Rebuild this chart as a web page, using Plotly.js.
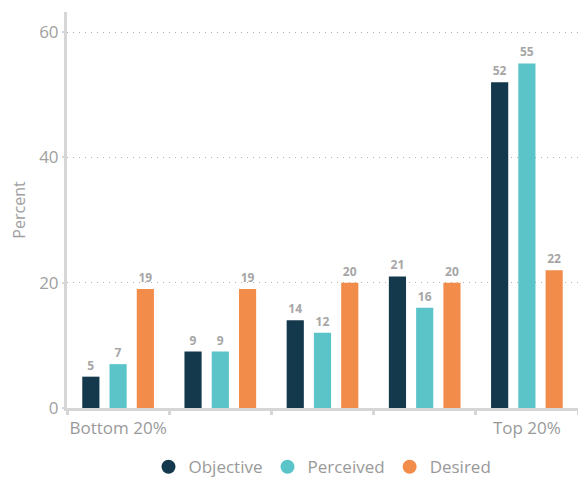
<!DOCTYPE html>
<html><head><meta charset="utf-8">
<script src="https://cdn.plot.ly/plotly-3.0.1.min.js"></script>
<style>body{margin:0;background:#fff}#c{width:578px;height:478px}</style>
</head><body><div id="c"></div>
<script>
const categories = ["Bottom 20%", " ", "  ", "   ", "Top 20%"];
const objective = [5, 9, 14, 21, 52];
const perceived = [7, 9, 12, 16, 55];
const desired = [19, 19, 20, 20, 22];
const seriesNames = ["Objective", "Perceived", "Desired"];
const colors = ["#14384c", "#5bc4c9", "#f28c4a"];
const yTicks = [0, 20, 40, 60];

const font = "'Open Sans', sans-serif";
const vals = [objective, perceived, desired];
const traces = [];
vals.forEach((v, i) => {
  traces.push({
    type: 'bar', x: categories, y: v, name: seriesNames[i],
    marker: {color: colors[i]}, showlegend: false,
    text: v.map(String), textposition: 'outside', cliponaxis: false,
    textfont: {family: font, size: 12, color: '#a6a6a6', weight: 'bold'},
    hoverinfo: 'x+y'
  });
});
vals.forEach((v, i) => {
  traces.push({
    type: 'scatter', mode: 'markers', x: [null], y: [null], name: seriesNames[i],
    marker: {color: colors[i], size: 14, symbol: 'circle'}, showlegend: true
  });
});

Plotly.newPlot('c', traces, {
  width: 578, height: 478,
  margin: {l: 67, r: 0, t: 12, b: 70, autoexpand: false},
  paper_bgcolor: '#fff', plot_bgcolor: '#fff',
  barmode: 'group', bargap: 0.2, bargroupgap: 0.37,
  font: {family: font, color: '#999'},
  xaxis: {
    type: 'category', range: [-0.5, 4.5], automargin: false, tickangle: 0,
    showline: true, linecolor: '#d6d6d6', linewidth: 3,
    ticks: 'outside', tickson: 'boundaries', ticklen: 4, tickwidth: 3, tickcolor: '#d6d6d6',
    ticklabelstandoff: 3,
    tickfont: {size: 17, color: '#9a9a9a'}, showgrid: false, zeroline: false, fixedrange: true
  },
  yaxis: {
    range: [0, 63.2], tickvals: yTicks, automargin: false,
    title: {text: 'Percent', font: {size: 16, color: '#a0a0a0'}, standoff: 10},
    showline: true, linecolor: '#d6d6d6', linewidth: 3,
    ticks: 'outside', ticklen: 2, tickwidth: 2, tickcolor: '#d6d6d6',
    tickfont: {size: 17, color: '#a0a0a0'},
    showgrid: true, gridcolor: '#b0b0b0', gridwidth: 1, griddash: '1px,5px',
    zeroline: false, fixedrange: true
  },
  legend: {
    orientation: 'h', x: 0.5, xanchor: 'center', xref: 'paper',
    y: -0.104, yanchor: 'top', yref: 'paper',
    font: {size: 17, color: '#999'}, itemwidth: 30
  },
  showlegend: true
}, {displayModeBar: false, staticPlot: true});
</script></body></html>
